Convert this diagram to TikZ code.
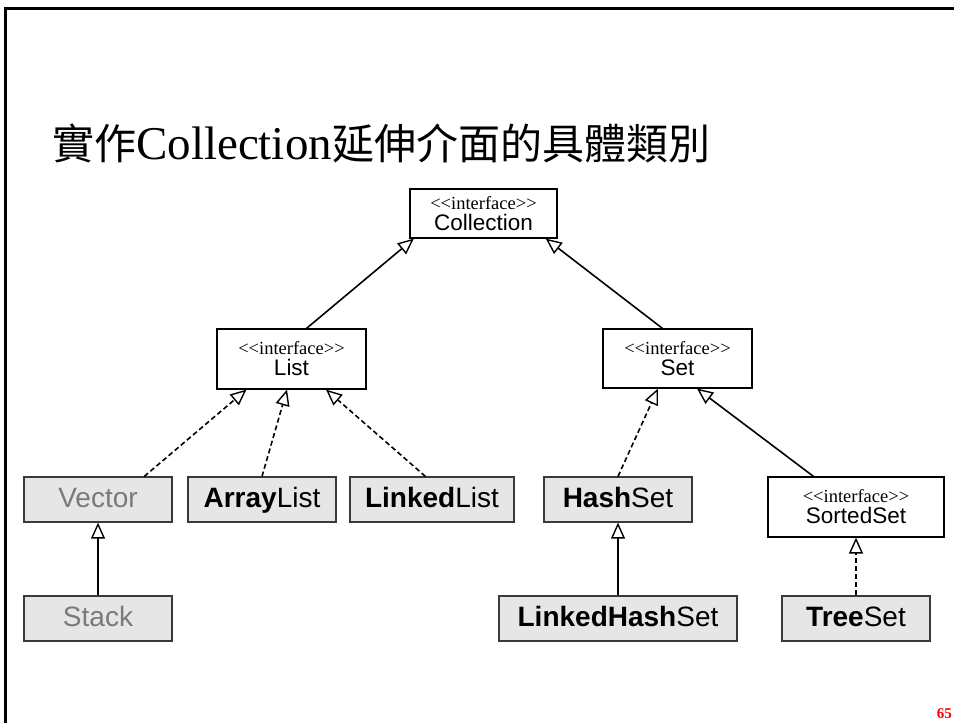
\documentclass[tikz,border=0pt]{standalone}
\usepackage{fontspec}
\setmainfont{Liberation Serif}
\setsansfont{Liberation Sans}
\newfontfamily\cjk{Noto Sans CJK TC}
\usetikzlibrary{arrows.meta,calc}
\definecolor{boxgray}{HTML}{E6E6E6}
\definecolor{edgegray}{HTML}{3A3A3A}
\definecolor{txtgray}{HTML}{7A7A7A}
\newcommand{\iface}{{\rmfamily\fontsize{18.5}{18}\selectfont <\kern0pt<interface>\kern0pt>}}
\begin{document}
\begin{tikzpicture}[x=1pt,y=-1pt,
  cls/.style={draw=edgegray, line width=1.2pt, fill=boxgray, inner sep=0pt, text height=20pt, text depth=4pt, font=\sffamily\fontsize{28}{30}\selectfont},
  ifc/.style={draw=black, line width=1.2pt, fill=white, inner sep=0pt, align=center, font=\sffamily\fontsize{22.5}{21}\selectfont},
  gen/.style={line width=1.6pt, -{Triangle[fill=white, length=16pt, width=14pt, line width=1.4pt]}},
  real/.style={gen, dash pattern=on 5pt off 3pt}
]
\useasboundingbox (0,0) rectangle (954,723);
% frame
\draw[line width=3pt] (5.5,723) -- (5.5,8) -- (954,8);
% title
\node[anchor=west, inner sep=0pt] (title) at (52,143) {\fontsize{42}{42}\selectfont\cjk 實作{\rmfamily\fontsize{47}{47}\selectfont Collection}延伸介面的具體類別};
% nodes
\node[ifc, minimum width=147pt, minimum height=49pt] (coll) at (483.5,213.5) {\iface\\Collection};
\node[ifc, minimum width=149pt, minimum height=60pt] (list) at (291.5,359) {\iface\\List};
\node[ifc, minimum width=149pt, minimum height=59pt] (set) at (677.5,358.5) {\iface\\Set};
\node[cls, minimum width=148pt, minimum height=45pt, text=txtgray] (vector) at (98,499.5) {Vector};
\node[cls, minimum width=148pt, minimum height=45pt] (arraylist) at (262,499.5) {\textbf{Array}List};
\node[cls, minimum width=164pt, minimum height=45pt] (linkedlist) at (432,499.5) {\textbf{Linked}List};
\node[cls, minimum width=148pt, minimum height=45pt] (hashset) at (618,499.5) {\textbf{Hash}Set};
\node[ifc, minimum width=176pt, minimum height=60pt] (sortedset) at (856,507) {\iface\\SortedSet};
\node[cls, minimum width=148pt, minimum height=45pt, text=txtgray] (stack) at (98,618.5) {Stack};
\node[cls, minimum width=238pt, minimum height=45pt] (lhs) at (618,618.5) {\textbf{LinkedHash}Set};
\node[cls, minimum width=148pt, minimum height=45pt] (treeset) at (856,618.5) {\textbf{Tree}Set};
\node[anchor=south east, inner sep=0pt, text=red, font=\rmfamily\bfseries\fontsize{15}{15}\selectfont] (pg) at (952,719) {65};
% connectors
\draw[gen] ($(list.north west)!0.6!(list.north east)$) -- ($(coll.south west)!0.03!(coll.south east)$);
\draw[gen] ($(set.north west)!0.4!(set.north east)$) -- ($(coll.south west)!0.92!(coll.south east)$);
\draw[real] ($(vector.north west)!0.81!(vector.north east)$) -- ($(list.south west)!0.2!(list.south east)$);
\draw[real] (arraylist.north) -- ($(list.south west)!0.47!(list.south east)$);
\draw[real] ($(linkedlist.north west)!0.46!(linkedlist.north east)$) -- ($(list.south west)!0.73!(list.south east)$);
\draw[real] (hashset.north) -- ($(set.south west)!0.37!(set.south east)$);
\draw[gen] ($(sortedset.north west)!0.26!(sortedset.north east)$) -- ($(set.south west)!0.63!(set.south east)$);
\draw[gen] (stack.north) -- (vector.south);
\draw[gen] (lhs.north) -- (hashset.south);
\draw[real] (treeset.north) -- (sortedset.south);
\end{tikzpicture}
\end{document}
